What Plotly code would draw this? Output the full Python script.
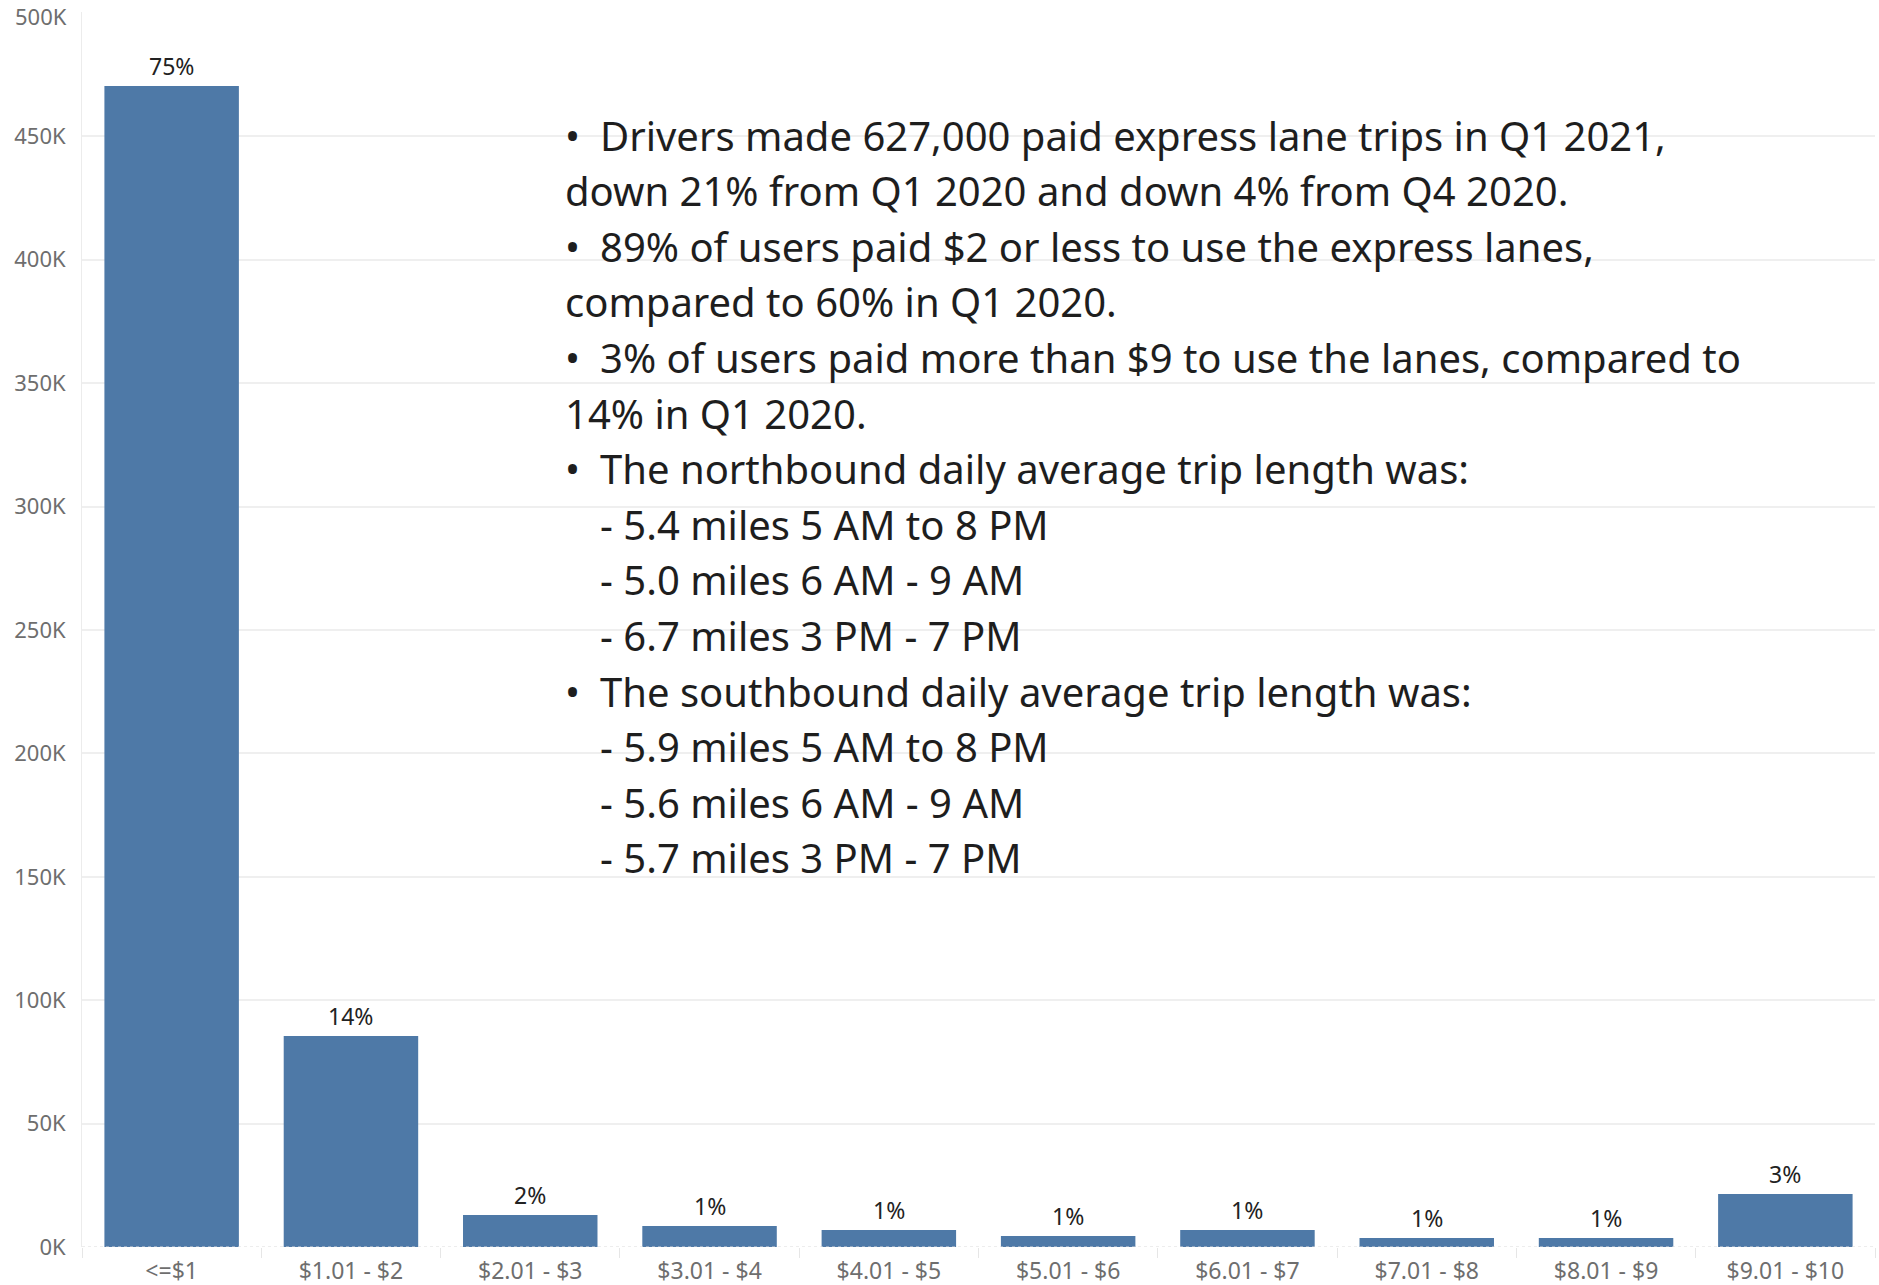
import plotly.graph_objects as go

# Paid express lane trips by toll paid, Q1 2021
price_bands = [
    "<=$1", "$1.01 - $2", "$2.01 - $3", "$3.01 - $4", "$4.01 - $5",
    "$5.01 - $6", "$6.01 - $7", "$7.01 - $8", "$8.01 - $9", "$9.01 - $10",
]
trips = [470400, 85500, 13000, 8500, 6900, 4500, 6900, 3600, 3600, 21500]

y_tick_values = [0, 50000, 100000, 150000, 200000, 250000, 300000, 350000, 400000, 450000, 500000]
y_tick_labels = ["0K", "50K", "100K", "150K", "200K", "250K", "300K", "350K", "400K", "450K", "500K"]

total_trips = sum(trips)
share_labels = [f"{round(v / total_trips * 100)}%" for v in trips]

# Summary notes: (kind, text); kind is "bullet", "cont" (wrapped line) or "sub" (indented item)
summary_lines = [
    ("bullet", "Drivers made 627,000 paid express lane trips in Q1 2021,"),
    ("cont", "down 21% from Q1 2020 and down 4% from Q4 2020."),
    ("bullet", "89% of users paid $2 or less to use the express lanes,"),
    ("cont", "compared to 60% in Q1 2020."),
    ("bullet", "3% of users paid more than $9 to use the lanes, compared to"),
    ("cont", "14% in Q1 2020."),
    ("bullet", "The northbound daily average trip length was:"),
    ("sub", "- 5.4 miles 5 AM to 8 PM"),
    ("sub", "- 5.0 miles 6 AM - 9 AM"),
    ("sub", "- 6.7 miles 3 PM - 7 PM"),
    ("bullet", "The southbound daily average trip length was:"),
    ("sub", "- 5.9 miles 5 AM to 8 PM"),
    ("sub", "- 5.6 miles 6 AM - 9 AM"),
    ("sub", "- 5.7 miles 3 PM - 7 PM"),
]

BAR_COLOR = "#4e79a7"
FONT = "Noto Sans"
TICK_COLOR = "#6e6e6e"
Y_TICK_SIZE = 22

W, H = 1879, 1285
M_L, M_R, M_T, M_B = 82, 4, 12, 38
PLOT_W = W - M_L - M_R
PLOT_H = H - M_T - M_B
Y_MAX = 500400


def px_x(x):
    return (x - M_L) / PLOT_W


def px_y(y):
    return (H - M_B - y) / PLOT_H


fig = go.Figure(
    go.Bar(
        x=price_bands,
        y=trips,
        marker=dict(color=BAR_COLOR, line=dict(width=0)),
        hoverinfo="x+y",
    )
)

annotations = []

# Share of trips above each bar
for band, value, label in zip(price_bands, trips, share_labels):
    annotations.append(dict(
        x=band, y=value, xref="x", yref="y",
        text=label, showarrow=False,
        yanchor="bottom", xanchor="center", yshift=2,
        font=dict(family=FONT, size=23, color="#222222"),
    ))

# Top y tick label, nudged just inside the page edge
annotations.append(dict(
    x=px_x(M_L - 14), y=y_tick_values[-1], xref="paper", yref="y",
    text=y_tick_labels[-1], showarrow=False,
    xanchor="right", yanchor="middle", yshift=-3, borderpad=0,
    font=dict(family=FONT, size=Y_TICK_SIZE, color=TICK_COLOR),
))

# Summary text block
TEXT_SIZE = 40
text_font = dict(family=FONT, size=TEXT_SIZE, color="#1e1e1e")
first_line_y, line_step = 135, 55.6
left_x, indent_x = 563, 598
for i, (kind, text) in enumerate(summary_lines):
    y = px_y(first_line_y + i * line_step)
    if kind == "bullet":
        annotations.append(dict(
            x=px_x(left_x), y=y, xref="paper", yref="paper", text="•",
            showarrow=False, xanchor="left", yanchor="middle", font=text_font,
        ))
        annotations.append(dict(
            x=px_x(indent_x), y=y, xref="paper", yref="paper", text=text,
            showarrow=False, xanchor="left", yanchor="middle", font=text_font,
        ))
    else:
        x = left_x if kind == "cont" else indent_x
        annotations.append(dict(
            x=px_x(x), y=y, xref="paper", yref="paper", text=text,
            showarrow=False, xanchor="left", yanchor="middle", font=text_font,
        ))

fig.update_layout(
    width=W, height=H,
    margin=dict(l=M_L, r=M_R, t=M_T, b=M_B, pad=0, autoexpand=False),
    paper_bgcolor="white",
    plot_bgcolor="white",
    font=dict(family=FONT),
    bargap=0.25,
    showlegend=False,
    annotations=annotations,
    shapes=[dict(
        type="line", xref="paper", yref="y", x0=0, x1=1, y0=0, y1=0,
        line=dict(color="#dadada", width=1, dash="dot"), layer="above",
    )],
    xaxis=dict(
        type="category",
        automargin=False,
        ticks="outside", tickson="boundaries", ticklen=10, tickwidth=1,
        tickcolor="#e6e6e6",
        showline=False, showgrid=False, zeroline=False,
        ticklabelstandoff=8,
        ticklabeloverflow="allow",
        tickfont=dict(family=FONT, size=23, color=TICK_COLOR),
    ),
    yaxis=dict(
        range=[0, Y_MAX],
        automargin=False,
        tickvals=y_tick_values,
        ticktext=y_tick_labels[:-1] + [""],
        showgrid=True, gridcolor="#efefef", gridwidth=1.5,
        showline=True, linecolor="#ececec", linewidth=1,
        zeroline=False, ticks="",
        ticklabelstandoff=11,
        ticklabeloverflow="allow",
        tickfont=dict(family=FONT, size=Y_TICK_SIZE, color=TICK_COLOR),
    ),
)

fig.write_html("out.html")
